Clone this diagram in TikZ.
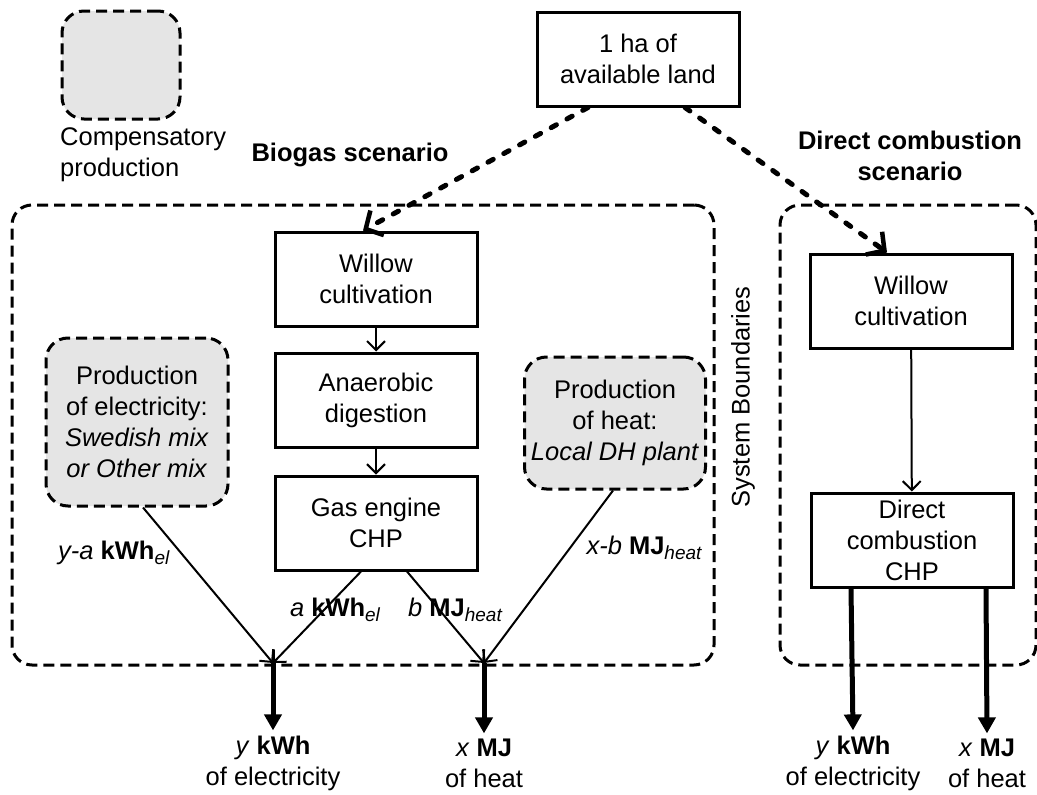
\documentclass[tikz,border=0pt]{standalone}
\usepackage{fontspec}
\setmainfont{Liberation Sans}
\usetikzlibrary{arrows.meta,calc}
\newcommand{\subsc}[1]{\raisebox{-5pt}{\fontsize{19}{19}\selectfont\itshape #1}}
\begin{document}
\begin{tikzpicture}[x=1pt,y=-1pt,
 every node/.style={font=\fontsize{25.5}{31}\selectfont, align=center},
 proc/.style={draw, line width=3pt, minimum width=202pt, minimum height=94pt, inner sep=0pt},
 comp/.style={draw, line width=3pt, dash pattern=on 11pt off 6pt, fill=black!10, rounded corners=22pt, inner sep=0pt},
 boundary/.style={draw, line width=3pt, dash pattern=on 11pt off 6pt, rounded corners=20pt, inner sep=0pt},
 flow/.style={line width=2pt, -{Straight Barb[length=9pt,width=18pt,line width=2pt]}},
 landarrow/.style={line width=5pt, dash pattern=on 6pt off 12pt, line cap=round, -{Straight Barb[length=13pt,width=28pt,line width=4.5pt]}},
 outarrow/.style={line width=5pt, -{Triangle[length=16pt,width=17pt]}},
 lbl/.style={inner sep=0pt},
 title/.style={font=\fontsize{25.5}{31.5}\selectfont\bfseries, inner sep=0pt}
]
\useasboundingbox (0,0) rectangle (1037,795);

% legend
\node[comp, minimum width=118pt, minimum height=108pt] (legend) at (121,65) {};
\node[lbl, anchor=west, align=left] (legendtxt) at (60,155) {Compensatory\\production};

% boundaries
\node[boundary, minimum width=702pt, minimum height=460pt] (bio) at (363,435) {};
\node[boundary, minimum width=256pt, minimum height=460pt] (dcb) at (908,435) {};
\node[lbl, rotate=90] (sysb) at (743,397) {System Boundaries};

% titles
\node[title] (biot) at (350,155) {Biogas scenario};
\node[title, align=center] (dct) at (910,156) {Direct combustion\\scenario};

% top box
\node[proc] (land) at (638,59) {1 ha of\\available land};

% biogas chain
\node[proc] (willow) at (376,279) {Willow\\cultivation};
\node[proc] (ad) at (376,400) {Anaerobic\\digestion};
\node[proc] (gas) at (376,523) {Gas engine\\CHP};
\node[comp, minimum width=182pt, minimum height=168pt] (elec) at (137,422) {Production\\of electricity:\\\textit{Swedish mix}\\\textit{or Other mix}};
\node[comp, minimum width=181pt, minimum height=132pt] (heat) at (615,423) {Production\\of heat:\\\textit{Local DH plant}};

% direct combustion chain
\node[proc] (dwillow) at (911,301) {Willow\\cultivation};
\node[proc] (dchp) at (912,540) {Direct\\combustion\\CHP};

% convergence points
\coordinate (ce) at (273,663);
\coordinate (ch) at (484,663);

% outputs
\node[lbl] (ye) at (273,763) {\textit{y} \textbf{kWh}\\of electricity};
\node[lbl] (xh) at (484,763) {\textit{x} \textbf{MJ}\\of heat};
\node[lbl] (dye) at (853,763) {\textit{y} \textbf{kWh}\\of electricity};
\node[lbl] (dxh) at (987,763) {\textit{x} \textbf{MJ}\\of heat};

% land arrows
\draw[landarrow] ($(land.south)+(-50,0)$) -- ($(willow.north)+(-13,0)$);
\draw[landarrow] ($(land.south)+(47,0)$) -- ($(dwillow.north)+(-24,0)$);

% process arrows
\draw[flow] (willow) -- (ad);
\draw[flow] (ad) -- (gas);
\draw[flow] (dwillow) -- (dchp);
\draw[flow] ($(elec.south)+(6,0)$) -- (ce);
\draw[flow] ($(gas.south)+(-15,0)$) -- (ce);
\draw[flow] ($(gas.south)+(31,0)$) -- (ch);
\draw[flow] ($(heat.south)+(-2,0)$) -- (ch);

% output arrows
\draw[outarrow] (ce) -- ($(ye.north)+(0,-5)$);
\draw[outarrow] (ch) -- ($(xh.north)+(0,-5)$);
\draw[outarrow] ($(dchp.south)+(-61,0)$) -- ($(dye.north)+(0,-5)$);
\draw[outarrow] ($(dchp.south)+(74,0)$) -- ($(dxh.north)+(0,-5)$);

% flow labels
\node[lbl, anchor=west] (l1) at (58,553) {\textit{y-a} \textbf{kWh}\subsc{el}};
\node[lbl] (l2) at (335,610) {\textit{a} \textbf{kWh}\subsc{el}};
\node[lbl] (l3) at (455,610) {\textit{b} \textbf{MJ}\subsc{heat}};
\node[lbl] (l4) at (644,548) {\textit{x-b} \textbf{MJ}\subsc{heat}};
\end{tikzpicture}
\end{document}
